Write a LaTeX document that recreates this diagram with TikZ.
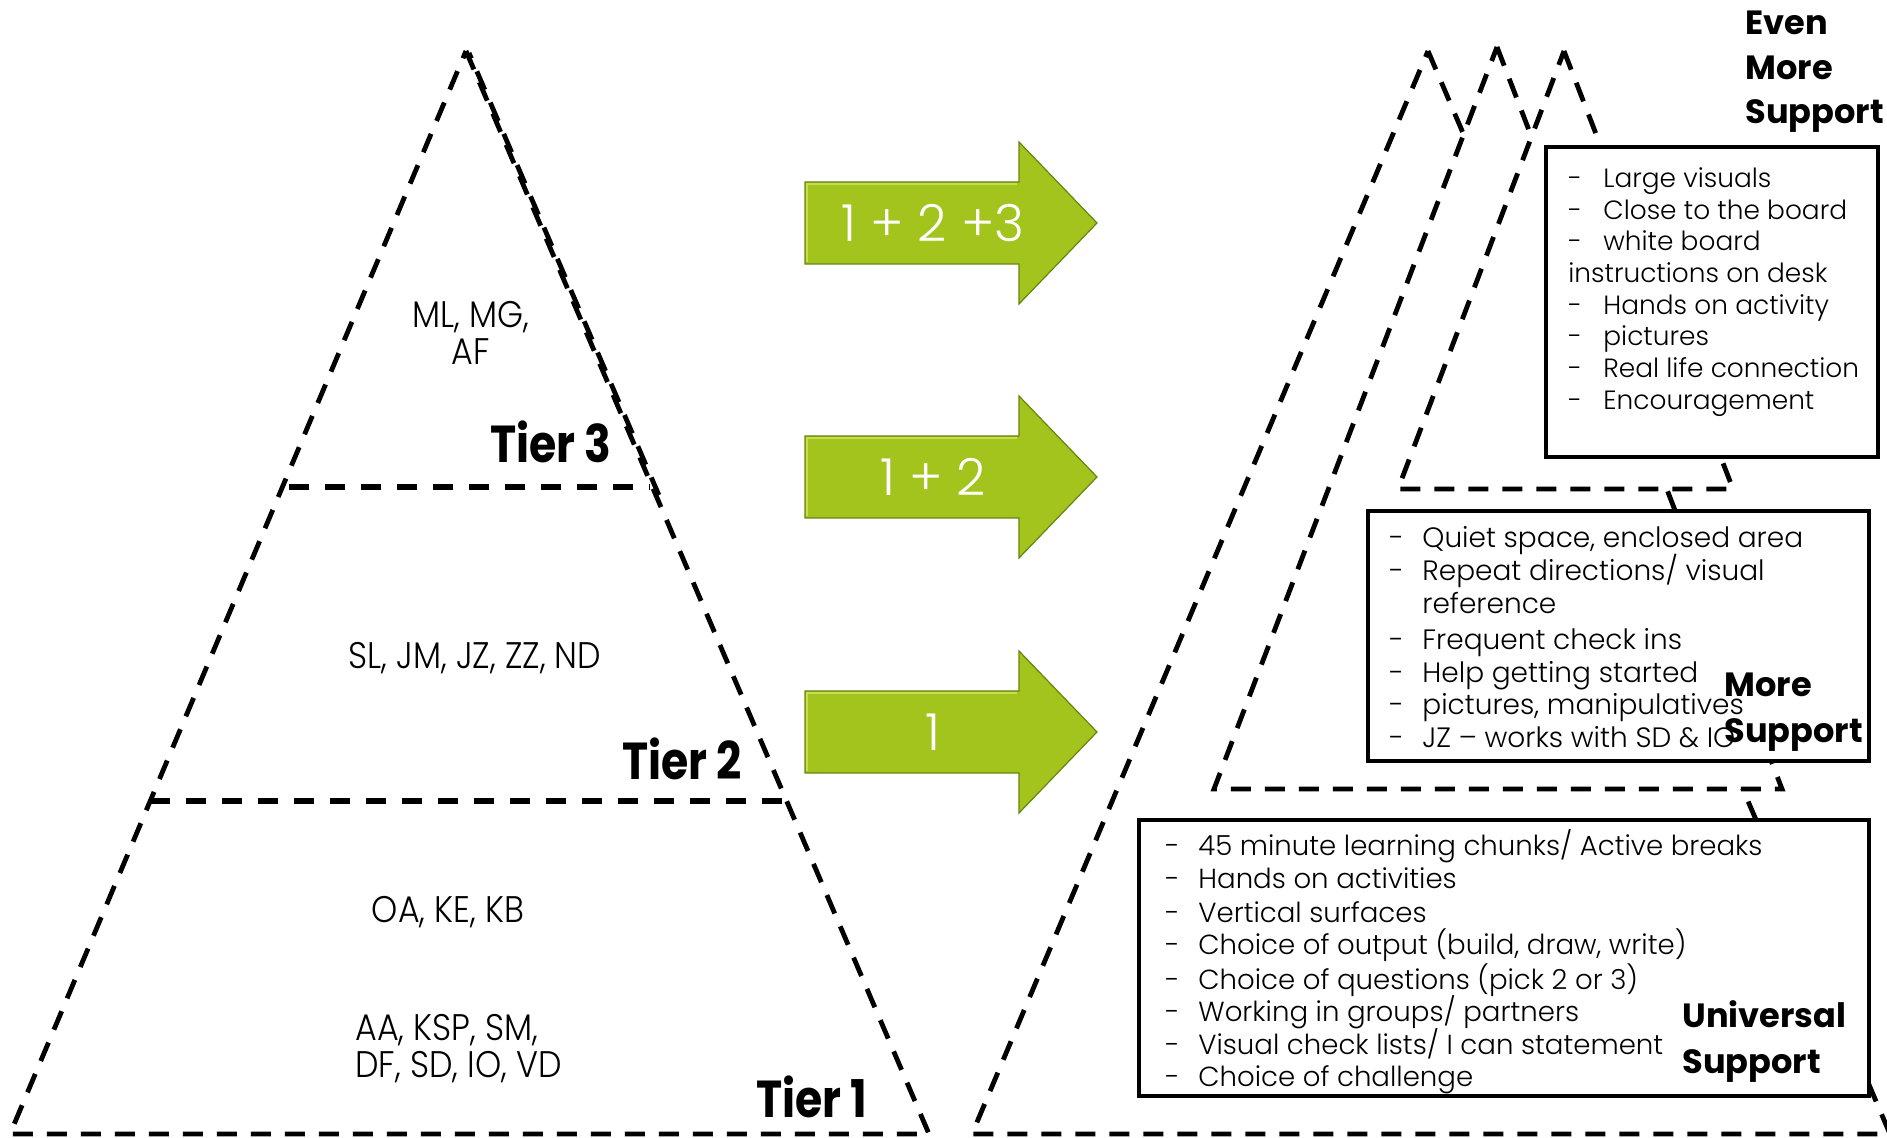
\documentclass[tikz,border=0pt]{standalone}
\usepackage{fontspec}
\setmainfont{Poppins}[UprightFont=* Light, BoldFont=* Bold]
\newfontfamily\condfont{Poppins}[UprightFont=* Light, BoldFont=* Bold, FakeStretch=0.85]
\newfontfamily\namefont{Poppins}[UprightFont=* Light, FakeStretch=0.9]
\usetikzlibrary{calc}
\definecolor{arrowgreen}{RGB}{162,196,28}
\definecolor{arrowdark}{RGB}{104,132,16}
\definecolor{arrowlight}{RGB}{196,222,80}

\begin{document}
\begin{tikzpicture}[x=0.5pt,y=-0.5pt,
  dashedge/.style={line width=2.4pt, dash pattern=on 10pt off 7pt},
  tierline/.style={line width=2.6pt, dash pattern=on 10pt off 8pt},
  listbox/.style={draw, line width=2.2pt, fill=white, inner sep=0pt, outer sep=0pt, anchor=north west},
  item/.style={anchor=base west, inner sep=0pt, font=\fontsize{13.2}{15}\selectfont},
  mitem/.style={item, font=\fontsize{14}{16}\selectfont},
  uitem/.style={item, font=\fontsize{13.8}{16}\selectfont},
  initials/.style={anchor=base, inner sep=0pt, font=\namefont\fontsize{18.5}{21}\selectfont},
  tier/.style={anchor=base, inner sep=0pt, font=\condfont\bfseries\fontsize{26}{28}\selectfont},
  lvl/.style={anchor=base west, inner sep=0pt, font=\bfseries\fontsize{16.8}{19}\selectfont},
  arrowbody/.style={fill=arrowgreen, draw=arrowdark, line width=0.6pt, line join=miter},
  arrowtext/.style={text=white, inner sep=0pt, font=\fontsize{25.5}{28}\selectfont}
]
\useasboundingbox (0,0) rectangle (1887,1138);
\clip (0,0) rectangle (1887,1138);

% ---------------- tier pyramid ----------------
\coordinate (L-top) at (466,51);
\coordinate (L-bl)  at (10,1134);
\coordinate (L-br)  at (929,1134);
\draw[dashedge] (L-top) -- (L-br) -- (L-bl) -- cycle;
% second outline of the top tier along the right side
\draw[dashedge, dash phase=7pt] ($(L-top)+(3,2)$) -- ($(L-top)!0.41!(L-br)+(3,0)$);

\coordinate (T3-l) at (289,487);
\coordinate (T3-r) at (650,487);
\coordinate (T2-l) at (150,801);
\coordinate (T2-r) at (785,801);
\draw[tierline] (T3-l) -- (T3-r);
\draw[tierline] (T2-l) -- (T2-r);

\node[initials] (n3a) at (471,328) {ML, MG,};
\node[initials] (n3b) at (471,365) {AF};
\node[tier] (tier3) at (551,463) {Tier 3};

\node[initials] (n2) at (475,669) {SL, JM, JZ, ZZ, ND};
\node[tier] (tier2) at (682,780) {Tier 2};

\node[initials] (n1a) at (448,923) {OA, KE, KB};
\node[initials, anchor=base west] (n1b) at (355,1041) {AA, KSP, SM,};
\node[initials, anchor=base west] (n1c) at (355,1077) {DF, SD, IO, VD};
\node[tier] (tier1) at (812,1117) {Tier 1};

% ---------------- green arrows ----------------
\foreach \cy/\lab/\nm in {223/{1 + 2 +3}/a3, 477/{1 + 2}/a2, 732/{1}/a1} {
  \filldraw[arrowbody]
    (805,\cy-41) -- (1019,\cy-41) -- (1019,\cy-81) -- (1097,\cy)
    -- (1019,\cy+81) -- (1019,\cy+41) -- (805,\cy+41) -- cycle;
  \draw[arrowlight, line width=0.8pt] (807,\cy+39) -- (807,\cy-39) -- (1017,\cy-39);
  \node[arrowtext] (\nm) at (933,\cy) {\lab};
}

% ---------------- support pyramids ----------------
\coordinate (U-top) at (1428,51);
\coordinate (U-bl)  at (972,1134);
\coordinate (U-br)  at (1890,1134);
\filldraw[fill=white, dashedge] (U-top) -- (U-br) -- (U-bl) -- cycle;

\coordinate (M-top) at (1497,47);
\coordinate (M-bl)  at (1214,789);
\coordinate (M-br)  at (1782,789);
\filldraw[fill=white, dashedge] (M-top) -- (M-br) -- (M-bl) -- cycle;

\coordinate (E-top) at (1564,51);
\coordinate (E-bl)  at (1398,489);
\coordinate (E-br)  at (1733,489);
\filldraw[fill=white, dashedge] (E-top) -- (E-br) -- (E-bl) -- cycle;

% ---------------- support boxes ----------------
\node[listbox, minimum width=166pt, minimum height=155pt] (emBox) at (1546,147) {};
\node[listbox, minimum width=250.5pt, minimum height=125pt] (mBox) at (1368,511) {};
\node[listbox, minimum width=365pt, minimum height=138pt] (uBox) at (1139,820) {};

% even more support
\node[item] (em1d) at (1568,188) {-};  \node[item] (em1) at (1603,188) {Large visuals};
\node[item] (em2d) at (1568,220) {-};  \node[item] (em2) at (1603,220) {Close to the board};
\node[item] (em3d) at (1568,251) {-};  \node[item] (em3) at (1603,251) {white board};
\node[item] (em4) at (1568,283) {instructions on desk};
\node[item] (em5d) at (1568,315) {-};  \node[item] (em5) at (1603,315) {Hands on activity};
\node[item] (em6d) at (1568,346) {-};  \node[item] (em6) at (1603,346) {pictures};
\node[item] (em7d) at (1568,378) {-};  \node[item] (em7) at (1603,378) {Real life connection};
\node[item] (em8d) at (1568,410) {-};  \node[item] (em8) at (1603,410) {Encouragement};

% more support
\node[mitem] (m1d) at (1389,548) {-};  \node[mitem] (m1) at (1422,548) {Quiet space, enclosed area};
\node[mitem] (m2d) at (1389,581) {-};  \node[mitem] (m2) at (1422,581) {Repeat directions/ visual};
\node[mitem] (m2b) at (1422,614) {reference};
\node[mitem] (m3d) at (1389,650) {-};  \node[mitem] (m3) at (1422,650) {Frequent check ins};
\node[mitem] (m4d) at (1389,683) {-};  \node[mitem] (m4) at (1422,683) {Help getting started};
\node[mitem] (m5d) at (1389,715) {-};  \node[mitem] (m5) at (1422,715) {pictures, manipulatives};
\node[mitem] (m6d) at (1389,748) {-};  \node[mitem] (m6) at (1422,748) {JZ – works with SD \& IO};

% universal support
\node[uitem] (u1d) at (1165,856)  {-}; \node[uitem] (u1) at (1198,856)  {45 minute learning chunks/ Active breaks};
\node[uitem] (u2d) at (1165,889)  {-}; \node[uitem] (u2) at (1198,889)  {Hands on activities};
\node[uitem] (u3d) at (1165,923)  {-}; \node[uitem] (u3) at (1198,923)  {Vertical surfaces};
\node[uitem] (u4d) at (1165,955)  {-}; \node[uitem] (u4) at (1198,955)  {Choice of output (build, draw, write)};
\node[uitem] (u5d) at (1165,990)  {-}; \node[uitem] (u5) at (1198,990)  {Choice of questions (pick 2 or 3)};
\node[uitem] (u6d) at (1165,1022) {-}; \node[uitem] (u6) at (1198,1022) {Working in groups/ partners};
\node[uitem] (u7d) at (1165,1055) {-}; \node[uitem] (u7) at (1198,1055) {Visual check lists/ I can statement};
\node[uitem] (u8d) at (1165,1087) {-}; \node[uitem] (u8) at (1198,1087) {Choice of challenge};

% level labels
\node[lvl] (emL1) at (1745,35)  {Even};
\node[lvl] (emL2) at (1745,80)  {More};
\node[lvl] (emL3) at (1745,124) {Support};
\node[lvl] (mL1)  at (1724,697) {More};
\node[lvl] (mL2)  at (1724,743) {Support};
\node[lvl] (uL1)  at (1682,1028) {Universal};
\node[lvl] (uL2)  at (1682,1073) {Support};
\end{tikzpicture}
\end{document}
